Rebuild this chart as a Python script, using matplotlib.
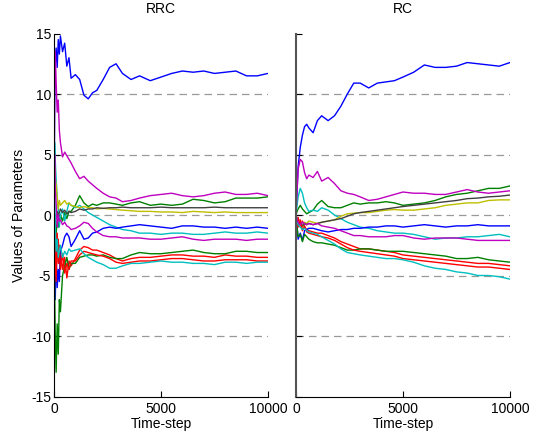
import matplotlib
matplotlib.use("Agg")
import matplotlib.pyplot as plt
import numpy as np

# MATLAB-style colours
C_B = (0, 0, 1)
C_G = (0, 0.5, 0)
C_R = (1, 0, 0)
C_C = (0, 0.75, 0.75)
C_M = (0.75, 0, 0.75)
C_Y = (0.75, 0.75, 0)
C_K = (0.25, 0.25, 0.25)

# ---- RRC panel (left) ----
t_rrc = [0, 30, 60, 100, 150, 200, 250, 300, 400, 500, 600, 700, 800, 1000, 1200, 1400,
         1600, 1800, 2000, 2300, 2600, 2900, 3200, 3600, 4000, 4500, 5000, 5500, 6000,
         6500, 7000, 7500, 8000, 8500, 9000, 9500, 10000]
rrc_b1 = [0, 9, 12.5, 13.8, 12.2, 14.5, 13.3, 14.8, 13.5, 14.2, 12.3, 13.0, 11.3, 11.6, 11.2, 9.9,
          9.6, 10.1, 10.3, 11.2, 12.2, 12.5, 11.7, 11.2, 11.5, 11.1, 11.4, 11.7, 11.9,
          11.8, 11.9, 11.7, 11.8, 11.9, 11.5, 11.5, 11.7]
rrc_m1 = [0, 10, 13.5, 11, 8.5, 9.5, 7, 6, 4.8, 5.2, 4.9, 4.6, 4.3, 3.6, 3.0, 3.2,
          2.8, 2.5, 2.2, 1.8, 1.5, 1.4, 1.1, 1.2, 1.4, 1.6, 1.7, 1.8, 1.6,
          1.5, 1.6, 1.8, 1.9, 1.7, 1.7, 1.8, 1.6]
rrc_g1 = [0, -2, -3, -1.5, -0.5, -1, -0.5, 0, -0.5, 0.2, -0.3, 0.3, 0.3, 0.8, 1.6, 1.0,
          0.7, 0.9, 0.8, 1.0, 1.0, 0.9, 0.8, 1.0, 1.1, 0.8, 0.9, 0.8, 0.9,
          1.3, 1.2, 1.0, 1.1, 1.4, 1.4, 1.4, 1.5]
rrc_y1 = [0, 4, 3, 2.5, 1.5, 0.5, 1.2, 0.8, 1.0, 1.2, 0.9, 1.0, 0.8, 0.7, 0.6, 0.7,
          0.6, 0.6, 0.5, 0.55, 0.5, 0.45, 0.4, 0.35, 0.3, 0.3, 0.25, 0.25, 0.2,
          0.3, 0.25, 0.2, 0.25, 0.2, 0.2, 0.2, 0.2]
rrc_k1 = [0, -1, -0.5, 0, 0.3, -0.2, 0.2, 0.5, 0.2, 0.4, 0.1, 0.3, 0.2, 0.3, 0.5, 0.4,
          0.5, 0.5, 0.6, 0.55, 0.6, 0.6, 0.65, 0.6, 0.6, 0.6, 0.65, 0.6, 0.6,
          0.6, 0.6, 0.65, 0.6, 0.6, 0.6, 0.6, 0.6]
rrc_b2 = [0, -4, -7, -3, -6, -4.5, -5.5, -3, -2.5, -1.8, -1.5, -1.8, -2.6, -2.0, -1.3, -2.0,
          -1.9, -1.5, -1.4, -1.1, -1.0, -1.1, -1.0, -0.9, -0.8, -0.9, -1.0, -1.1, -0.9,
          -0.9, -1.0, -1.0, -1.1, -1.0, -1.1, -1.0, -1.1]
rrc_c1 = [0, 6, 4.5, 3, 1.5, 0.5, -1, 0, 0.5, -0.5, 0.3, 1.0, 0.8, 0.6, 0.8, 0.5,
          0.2, 0.0, -0.2, -0.5, -0.8, -1.0, -1.2, -1.3, -1.5, -1.5, -1.6, -1.5, -1.5,
          -1.6, -1.6, -1.5, -1.4, -1.5, -1.5, -1.4, -1.5]
rrc_m2 = [0, 5, 2, 1, -1, 0, -0.5, -0.4, -0.8, -0.6, -0.9, -1.0, -1.2, -1.1, -0.9, -0.6,
          -0.7, -1.1, -1.4, -1.7, -1.8, -1.8, -1.9, -1.9, -1.9, -2.0, -2.0, -1.9, -1.8,
          -2.0, -2.1, -2.0, -2.0, -2.0, -2.1, -2.0, -2.0]
rrc_g2 = [0, -6, -10, -13, -9, -11.5, -7, -8, -5, -4.2, -3.5, -4.5, -4.0, -4.0, -3.5, -3.4,
          -3.3, -3.3, -3.4, -3.3, -3.5, -3.6, -3.6, -3.3, -3.1, -3.2, -3.2, -3.1, -3.0,
          -2.9, -3.1, -3.2, -3.2, -3.0, -3.0, -3.1, -3.1]
rrc_r1 = [0, -2, -4, -1.5, -3.5, -2, -4, -3, -4.5, -3.5, -5.2, -3.8, -4.2, -3.6, -2.9, -2.6,
          -2.7, -2.9, -2.9, -3.1, -3.3, -3.6, -3.8, -3.6, -3.5, -3.5, -3.4, -3.3, -3.3,
          -3.4, -3.4, -3.5, -3.3, -3.4, -3.4, -3.5, -3.5]
rrc_r2 = [0, -5, -2, -5.5, -1.5, -4, -2.5, -4.5, -3.2, -4.8, -4.0, -4.5, -3.8, -3.8, -3.3, -3.0,
          -3.1, -3.2, -3.3, -3.4, -3.6, -3.9, -4.0, -3.9, -3.8, -3.8, -3.7, -3.6, -3.6,
          -3.7, -3.8, -3.8, -3.7, -3.7, -3.7, -3.8, -3.8]
rrc_c2 = [0, 3, -1, -3, -2, -3.5, -3, -2.5, -3.5, -3.0, -3.3, -2.8, -3.0, -2.9, -2.8, -3.2,
          -3.5, -3.7, -3.9, -4.1, -4.4, -4.4, -4.2, -4.0, -4.0, -3.9, -3.8, -3.9, -3.9,
          -4.0, -4.0, -4.1, -3.9, -3.9, -4.0, -3.9, -3.9]

# ---- RC panel (right) ----
t_rc = [0, 50, 100, 200, 300, 400, 500, 600, 800, 1000, 1200, 1500, 1800, 2100, 2400, 2700,
        3000, 3400, 3800, 4200, 4600, 5000, 5500, 6000, 6500, 7000, 7500, 8000, 8500, 9000,
        9500, 10000]
rc_b1 = [0, 2, 4.0, 5.6, 6.6, 7.3, 7.5, 7.2, 6.8, 7.8, 8.2, 7.8, 8.2, 9.0, 10.0, 10.9,
         10.9, 10.5, 10.9, 11.0, 11.1, 11.4, 11.8, 12.4, 12.2, 12.2, 12.3, 12.6, 12.5, 12.4,
         12.3, 12.6]
rc_m1 = [0, 2, 3.8, 4.6, 4.4, 3.5, 3.0, 3.3, 3.1, 3.6, 2.8, 3.1, 2.6, 2.0, 1.8, 1.7,
         1.5, 1.2, 1.3, 1.5, 1.7, 1.9, 1.8, 1.8, 1.7, 1.7, 1.9, 2.1, 1.9, 1.8,
         1.9, 2.0]
rc_g1 = [0, 0.3, 0.5, 0.8, 0.5, 0.3, 0.1, 0.2, 0.4, 0.9, 1.2, 0.7, 0.6, 0.6, 0.8, 1.0,
         0.9, 1.0, 1.0, 1.1, 1.0, 0.8, 0.9, 1.0, 1.2, 1.5, 1.7, 1.8, 2.0, 2.2,
         2.2, 2.4]
rc_k1 = [0, -0.5, -0.8, -0.6, -0.9, -0.7, -0.8, -0.7, -0.8, -0.7, -0.6, -0.5, -0.4, -0.3, -0.1, 0.1,
         0.2, 0.3, 0.4, 0.5, 0.6, 0.7, 0.8, 0.9, 1.0, 1.1, 1.2, 1.35, 1.4, 1.5,
         1.55, 1.65]
rc_y1 = [0, -0.6, -0.9, -0.7, -1.0, -0.6, -0.7, -0.5, -0.6, -0.7, -0.6, -0.5, -0.4, -0.1, 0.1, 0.15,
         0.2, 0.2, 0.3, 0.4, 0.45, 0.4, 0.4, 0.5, 0.6, 0.8, 0.9, 1.0, 1.0, 1.2,
         1.25, 1.25]
rc_b2 = [0, -1.0, -2.0, -1.5, -2.1, -1.3, -1.2, -1.1, -1.1, -1.2, -1.3, -1.4, -1.3, -1.2, -1.2, -1.1,
         -1.1, -1.0, -1.0, -0.9, -0.9, -1.0, -0.9, -0.8, -0.9, -1.0, -0.9, -0.9, -0.8, -0.9,
         -0.9, -0.9]
rc_c1 = [0, 0.8, 1.5, 2.2, 1.8, 1.0, 0.6, 0.3, 0.4, 0.3, 0.6, 0.4, 0.0, -0.3, -0.6, -0.8,
         -1.0, -1.1, -1.3, -1.4, -1.5, -1.5, -1.6, -1.8, -2.0, -1.9, -1.9, -1.8, -1.8, -1.7,
         -1.6, -1.8]
rc_m2 = [0, -0.4, -0.6, -0.8, -0.6, -0.7, -0.8, -0.7, -0.8, -0.7, -0.9, -1.0, -1.1, -1.3, -1.5, -1.7,
         -1.7, -1.8, -1.8, -1.8, -1.7, -1.7, -1.9, -2.0, -1.9, -1.9, -1.9, -2.0, -2.1, -2.1,
         -2.1, -2.1]
rc_g2 = [0, -1.0, -1.8, -1.6, -2.2, -1.6, -1.8, -2.0, -2.2, -2.3, -2.3, -2.4, -2.5, -2.7, -2.9, -2.9,
         -2.8, -2.8, -2.9, -3.0, -3.0, -3.0, -3.1, -3.2, -3.3, -3.4, -3.6, -3.6, -3.5, -3.7,
         -3.8, -3.9]
rc_r1 = [0, -0.8, -0.2, -0.9, -0.5, -1.0, -1.2, -1.3, -1.4, -1.5, -1.5, -1.7, -1.9, -2.2, -2.4, -2.6,
         -2.8, -2.8, -2.9, -3.0, -3.1, -3.3, -3.4, -3.5, -3.6, -3.7, -3.8, -3.9, -4.0, -4.0,
         -4.1, -4.2]
rc_r2 = [0, -0.3, -1.0, -0.4, -1.3, -0.9, -1.4, -1.5, -1.6, -1.7, -1.8, -1.9, -2.1, -2.4, -2.7, -2.9,
         -3.0, -3.1, -3.2, -3.3, -3.4, -3.6, -3.7, -3.8, -3.9, -4.0, -4.1, -4.2, -4.3, -4.3,
         -4.4, -4.5]
rc_c2 = [0, -0.5, -0.8, -1.0, -1.2, -1.1, -1.3, -1.4, -1.5, -1.6, -1.8, -2.1, -2.4, -2.8, -3.1, -3.2,
         -3.3, -3.4, -3.5, -3.6, -3.6, -3.7, -3.9, -4.2, -4.4, -4.5, -4.7, -4.8, -5.0, -5.0,
         -5.1, -5.3]

ref_levels = [-10, -5, 0, 5, 10]
y_ticks = [-15, -10, -5, 0, 5, 10, 15]
x_ticks = [0, 5000, 10000]

rrc_series = [(rrc_b1, C_B), (rrc_g1, C_G), (rrc_r1, C_R), (rrc_c1, C_C), (rrc_m1, C_M),
              (rrc_y1, C_Y), (rrc_k1, C_K), (rrc_b2, C_B), (rrc_g2, C_G), (rrc_r2, C_R),
              (rrc_c2, C_C), (rrc_m2, C_M)]
rc_series = [(rc_b1, C_B), (rc_g1, C_G), (rc_r1, C_R), (rc_c1, C_C), (rc_m1, C_M),
             (rc_y1, C_Y), (rc_k1, C_K), (rc_b2, C_B), (rc_g2, C_G), (rc_r2, C_R),
             (rc_c2, C_C), (rc_m2, C_M)]

plt.rcParams["font.family"] = ["Liberation Sans", "DejaVu Sans"]
plt.rcParams["font.size"] = 10
plt.rcParams["axes.unicode_minus"] = False

fig = plt.figure(figsize=(5.34, 4.34), dpi=100)
ax1 = fig.add_axes([0.1011, 0.0864, 0.4007, 0.8364])
ax2 = fig.add_axes([0.5543, 0.0864, 0.4007, 0.8364])


def draw_panel(ax, t, series, title, spine_color):
    for lvl in ref_levels:
        ax.plot([0, 10000], [lvl, lvl], color="#999999", lw=0.9,
                dashes=(6, 4), zorder=1)
    for vals, col in series:
        ax.plot(t, vals, color=col, lw=1.0, zorder=2)
    ax.set_xlim(0, 10000)
    ax.set_ylim(-15, 15)
    ax.set_xticks(x_ticks)
    ax.set_xticklabels([str(v) for v in x_ticks])
    ax.set_yticks(y_ticks)
    ax.spines["top"].set_visible(False)
    ax.spines["right"].set_visible(False)
    ax.spines["left"].set_color(spine_color)
    ax.spines["bottom"].set_color("black")
    ax.tick_params(direction="in", length=4, width=0.8)
    ax.tick_params(axis="x", pad=4)
    ax.tick_params(axis="y", pad=2)
    ax.set_title(title, fontsize=10, pad=15)
    ax.set_xlabel("Time-step", fontsize=10, labelpad=1)


draw_panel(ax1, t_rrc, rrc_series, "RRC", "black")
draw_panel(ax2, t_rc, rc_series, "RC", "#555555")
ax2.set_yticklabels([])
ax2.spines["left"].set_linewidth(1.5)
ax1.set_ylabel("Values of Parameters", fontsize=10, labelpad=4)

fig.savefig("out.png", dpi=100)
